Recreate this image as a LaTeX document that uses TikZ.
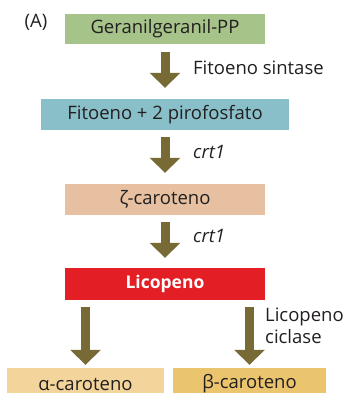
\documentclass[tikz,border=0pt]{standalone}
\usepackage{fontspec}
\setmainfont{Open Sans}
\usetikzlibrary{arrows.meta}
\definecolor{cgreen}{HTML}{A6C48A}
\definecolor{cblue}{HTML}{89BFC8}
\definecolor{cpeach}{HTML}{E6C0A0}
\definecolor{cred}{HTML}{E31E24}
\definecolor{clight}{HTML}{F3D49B}
\definecolor{cgold}{HTML}{EBC46E}
\definecolor{carrow}{HTML}{786A35}
\definecolor{ctext}{HTML}{231F20}
\newcommand{\fsz}{\fontsize{18.5}{22}\selectfont}
\tikzset{
  box/.style={fill=#1, draw=none, inner sep=0pt, text=ctext, font=\fsz},
  bigarrow/.style={draw=carrow, line width=9pt, -{Triangle[width=30pt,length=15pt]}},
  lab/.style={anchor=west, inner sep=0pt, text=ctext, font=\fsz}
}
\begin{document}
\begin{tikzpicture}[x=1pt,y=-1pt]
\useasboundingbox (0,0) rectangle (348,393);
\clip (0,0) rectangle (348,393);
\node[anchor=center, inner sep=0pt, text=ctext, font=\fsz] (A) at (36,22) {(A)};
\node[box=cgreen, minimum width=200pt, minimum height=30pt] (g) at (165,29) {Geranilgeranil-PP};
\node[box=cblue, minimum width=248pt, minimum height=31pt] (f) at (165,114.5) {Fitoeno + 2 pirofosfato};
\node[box=cpeach, minimum width=200pt, minimum height=31pt] (z) at (165,199.5) {ζ-caroteno};
\node[box=cred, minimum width=200pt, minimum height=32pt, text=white, font=\fontsize{17.5}{21}\selectfont\bfseries] (l) at (165,284) {Licopeno};
\node[box=clight, minimum width=157pt, minimum height=32pt] (a) at (85.5,384) {α-caroteno};
\node[box=cgold, minimum width=153pt, minimum height=32pt] (b) at (249.5,384) {β-caroteno};
\draw[bigarrow, shorten <=8pt, shorten >=11pt] (g.south) -- (f.north);
\draw[bigarrow, shorten <=7pt, shorten >=11pt] (f.south) -- (z.north);
\draw[bigarrow, shorten <=7pt, shorten >=10pt] (z.south) -- (l.north);
\draw[bigarrow, shorten <=7pt, shorten >=3pt] (l.south -| a.north) -- (a.north);
\draw[bigarrow, shorten <=7pt, shorten >=3pt] (l.south -| b.north) -- (b.north);
\node[lab] (t1) at (193,68) {Fitoeno sintase};
\node[lab, font=\fsz\itshape] (t2) at (193,152) {crt1};
\node[lab, font=\fsz\itshape] (t3) at (193,236) {crt1};
\node[lab, align=left] (t4) at (265,326) {Licopeno\\ciclase};
\end{tikzpicture}
\end{document}
